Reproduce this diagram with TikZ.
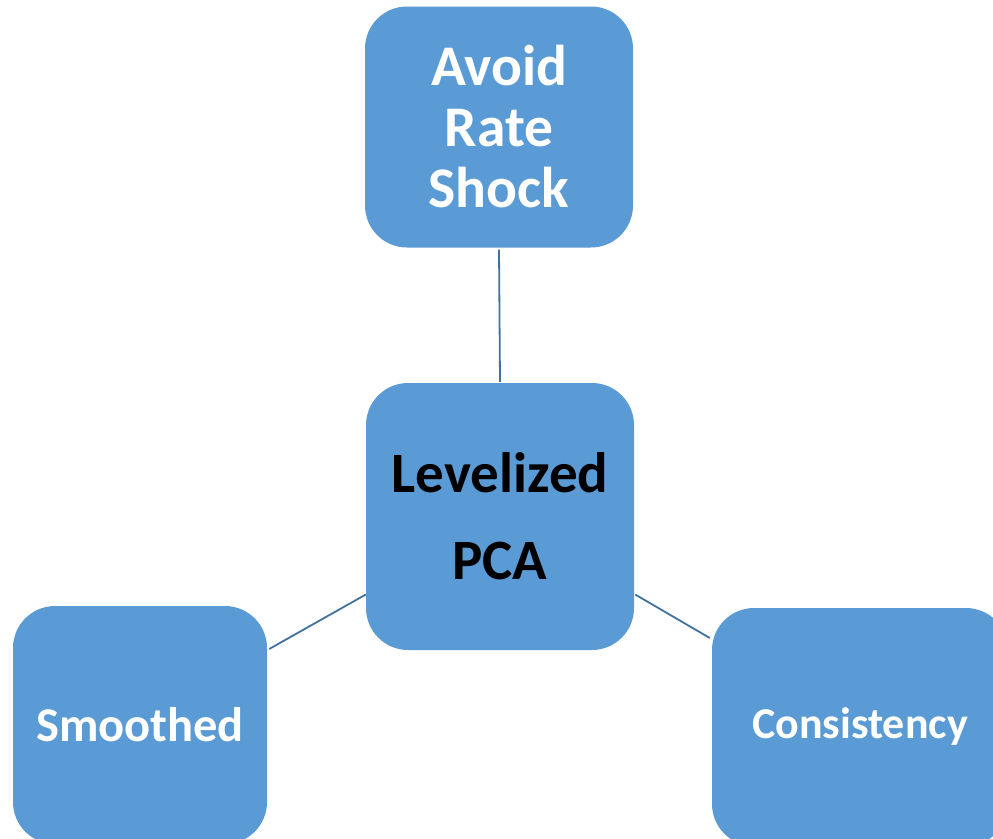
\documentclass[tikz,border=0pt]{standalone}
\usepackage{fontspec}
\setmainfont{Carlito}
\definecolor{boxblue}{HTML}{5B9BD5}
\definecolor{linkblue}{HTML}{41719C}
\begin{document}
\begin{tikzpicture}[x=1pt,y=-1pt,
  box/.style={fill=boxblue,draw=none,rounded corners=42pt,inner sep=0pt,align=center,font=\bfseries},
  link/.style={draw=linkblue,line width=1.8pt}]
\useasboundingbox (0,0) rectangle (993,838);
\clip (0,0) rectangle (993,838);
\node[box,minimum width=268pt,minimum height=241pt,text=white,
  font=\bfseries\fontsize{57.5}{61}\selectfont] (top) at (499,127) {Avoid\\Rate\\Shock};
\node[box,minimum width=268pt,minimum height=267pt,text=black,
  font=\bfseries\fontsize{57}{87}\selectfont] (ctr) at (500,516.5) {Levelized\\PCA};
\node[box,minimum width=254pt,minimum height=238pt,text=white,
  font=\bfseries\fontsize{48.5}{58}\selectfont] (lft) at (140,725) {Smoothed};
\node[box,minimum width=296pt,minimum height=238pt,text=white,
  font=\bfseries\fontsize{44}{52}\selectfont] (rgt) at (860,727) {Consistency};
\draw[link] ([yshift=-2pt]top.south) -- ([yshift=1pt]ctr.north);
\draw[link] ([yshift=-78pt]ctr.west) -- ([xshift=2pt,yshift=76pt]lft.east);
\draw[link] ([xshift=1pt,yshift=-78pt]ctr.east) -- ([xshift=-2pt,yshift=89pt]rgt.west);
\end{tikzpicture}
\end{document}
